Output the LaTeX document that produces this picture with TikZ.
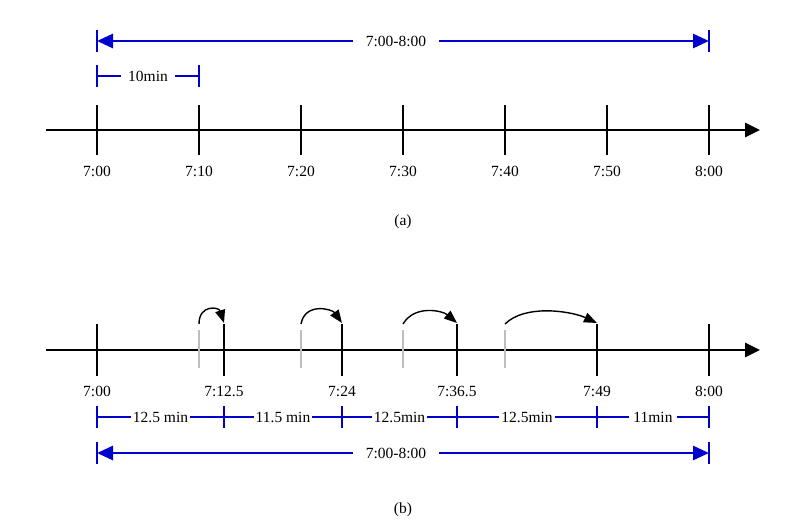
\documentclass[tikz,border=0pt]{standalone}
\usepackage{fontspec}
\setmainfont{Liberation Serif}
\usetikzlibrary{arrows.meta}
\definecolor{spanblue}{RGB}{0,0,204}
\definecolor{oldgray}{RGB}{190,190,190}

\begin{document}
\begin{tikzpicture}[x=1pt,y=-1pt]
        \tikzstyle{every node}+=[inner sep=0pt, text=black, font=\fontsize{15.5}{18}\selectfont]
        \tikzstyle{axis}=[black, line width=2.8pt, -{Triangle[length=15pt,width=14pt]}]
        \tikzstyle{tick}=[black, line width=2.6pt]
        \tikzstyle{oldtick}=[oldgray, line width=2.6pt]
        \tikzstyle{span}=[spanblue, line width=2.8pt]
        \tikzstyle{spanarrow}=[span, {Triangle[length=16pt,width=14pt]}-{Triangle[length=16pt,width=14pt]}]
        \tikzstyle{jump}=[black, line width=1.4pt, -{Triangle[length=13pt,width=10pt]}]
        \tikzstyle{gap}=[fill=white, inner xsep=2pt, inner ysep=2pt]
        \useasboundingbox (0,0) rectangle (804,522);
        % (a) fixed steps
        \coordinate (a0) at (46,130);
        \coordinate (a1) at (760,130);
        \draw [axis] (a0) -- (a1);
        \foreach \x/\t [count=\i] in {97/7:00,199/7:10,301/7:20,403/7:30,505/7:40,607/7:50,709/8:00} {
            \draw [tick] (\x,105) -- (\x,155);
            \node (ta\i) at (\x,171) {\t};
        }
        \coordinate (ra0) at (97,41);
        \coordinate (ra1) at (709,41);
        \draw [span] (97,30) -- (97,52);
        \draw [span] (709,30) -- (709,52);
        \draw [spanarrow] (ra0) -- node [gap, inner xsep=13pt, xshift=-7pt] (houra) {7:00-8:00} (ra1);
        \coordinate (sa0) at (97,76);
        \coordinate (sa1) at (199,76);
        \draw [span] (97,65) -- (97,87);
        \draw [span] (199,65) -- (199,87);
        \draw [span] (sa0) -- node [gap, inner xsep=7pt] (stepa) {10min} (sa1);
        \node (capa) at (403,222) {(a)};
        % (b) shifted steps
        \coordinate (b0) at (46,350);
        \coordinate (b1) at (760,350);
        \draw [axis] (b0) -- (b1);
        \foreach \x [count=\i] in {199,301,403,505} {
            \draw [oldtick] (\x,330) -- (\x,368);
            \coordinate (g\i) at (\x,324);
        }
        \foreach \x/\t [count=\i] in {97/7:00,224/7:12.5,342/7:24,457/7:36.5,597/7:49,709/8:00} {
            \draw [tick] (\x,324) -- (\x,376);
            \node (tb\i) at (\x,391) {\t};
            \coordinate (k\i) at (\x,323);
            \coordinate (s\i) at (\x,417);
            \draw [span] (\x,406) -- (\x,428);
        }
        \draw [jump] (g1) .. controls +(0,-20) and +(-5,-16) .. (k2);
        \draw [jump] (g2) .. controls +(4,-22) and +(-10,-14) .. (k3);
        \draw [jump] (g3) .. controls +(12,-20) and +(-14,-12) .. (k4);
        \draw [jump] (g4) .. controls +(20,-20) and +(-26,-12) .. (k5);
        \draw [span] (s1) -- node [gap] (d1) {12.5 min} (s2);
        \draw [span] (s2) -- node [gap] (d2) {11.5 min} (s3);
        \draw [span] (s3) -- node [gap] (d3) {12.5min} (s4);
        \draw [span] (s4) -- node [gap] (d4) {12.5min} (s5);
        \draw [span] (s5) -- node [gap, inner xsep=4pt] (d5) {11min} (s6);
        \coordinate (rb0) at (97,453);
        \coordinate (rb1) at (709,453);
        \draw [span] (97,442) -- (97,464);
        \draw [span] (709,442) -- (709,464);
        \draw [spanarrow] (rb0) -- node [gap, inner xsep=13pt, xshift=-7pt] (hourb) {7:00-8:00} (rb1);
        \node (capb) at (403,510) {(b)};
    \end{tikzpicture}
\end{document}
